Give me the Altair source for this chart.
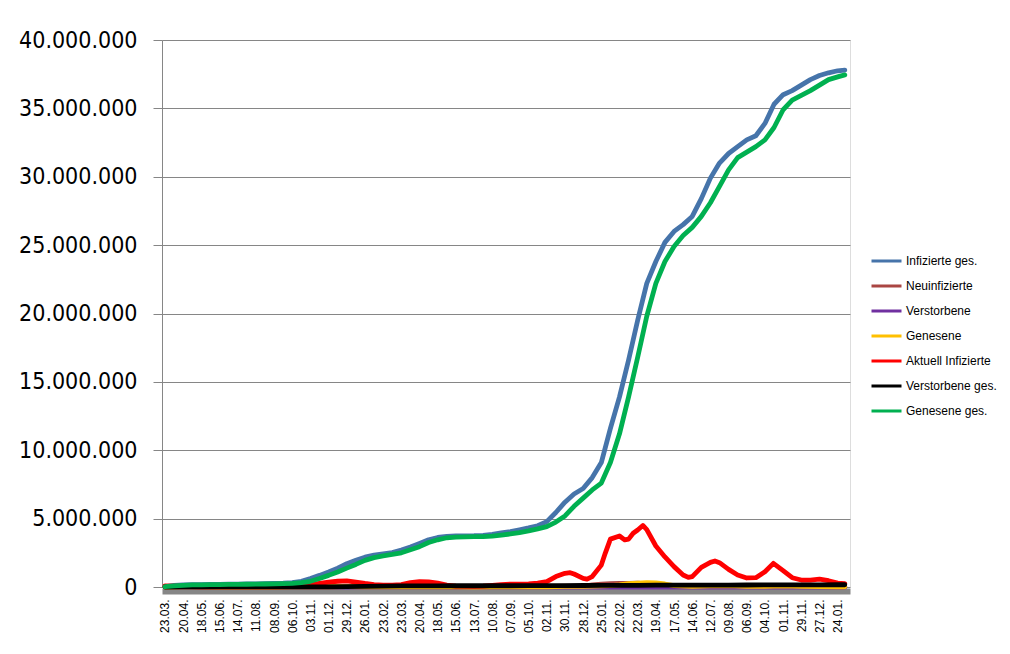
import altair as alt
import pandas as pd

# ---- data (values in millions) -------------------------------------------
x_labels = ["23.03.", "20.04.", "18.05.", "15.06.", "14.07.", "11.08.", "08.09.", "06.10.",
            "03.11.", "01.12.", "29.12.", "26.01.", "23.02.", "23.03.", "20.04.", "18.05.",
            "15.06.", "13.07.", "10.08.", "07.09.", "05.10.", "02.11.", "30.11.", "28.12.",
            "25.01.", "22.02.", "22.03.", "19.04.", "17.05.", "14.06.", "12.07.", "09.08.",
            "06.09.", "04.10.", "01.11.", "29.11.", "27.12.", "24.01."]

series_names = ["Infizierte ges.", "Neuinfizierte", "Verstorbene", "Genesene",
                "Aktuell Infizierte", "Verstorbene ges.", "Genesene ges."]
series_colors = ["#4674AA", "#AA4643", "#7030A0", "#FFC000", "#FF0000", "#000000", "#00B050"]

grid_days = list(range(0, 1037, 14)) + [1047]
coarse_days = list(range(0, 1037, 28)) + [1047]

infizierte_ges = [
    0.03, 0.12, 0.15, 0.17, 0.18, 0.19, 0.19, 0.20, 0.21, 0.22,
    0.23, 0.24, 0.26, 0.28, 0.32, 0.42, 0.62, 0.85, 1.10, 1.38,
    1.70, 1.95, 2.18, 2.33, 2.42, 2.52, 2.70, 2.92, 3.18, 3.45,
    3.62, 3.70, 3.73, 3.74, 3.75, 3.78, 3.85, 3.95, 4.05, 4.18,
    4.32, 4.48, 4.78, 5.45, 6.20, 6.80, 7.20, 8.00, 9.10, 11.6,
    13.9, 16.6, 19.5, 22.2, 23.8, 25.2, 26.0, 26.5, 27.1, 28.4,
    29.9, 31.0, 31.7, 32.2, 32.7, 33.0, 33.9, 35.3, 36.0, 36.3,
    36.7, 37.1, 37.4, 37.6, 37.75, 37.8]

genesene_ges = [
    0.02, 0.08, 0.12, 0.15, 0.16, 0.17, 0.18, 0.185, 0.19, 0.20,
    0.21, 0.22, 0.23, 0.25, 0.27, 0.32, 0.42, 0.62, 0.85, 1.10,
    1.38, 1.65, 1.95, 2.15, 2.28, 2.38, 2.50, 2.72, 2.95, 3.25,
    3.45, 3.60, 3.65, 3.67, 3.68, 3.69, 3.72, 3.80, 3.88, 3.98,
    4.10, 4.25, 4.42, 4.75, 5.20, 5.90, 6.50, 7.10, 7.60, 9.10,
    11.2, 13.9, 16.8, 19.8, 22.2, 23.8, 24.9, 25.7, 26.3, 27.1,
    28.1, 29.3, 30.5, 31.4, 31.8, 32.2, 32.7, 33.6, 34.9, 35.6,
    35.95, 36.3, 36.7, 37.1, 37.3, 37.45]

aktuell_days = [0, 14, 28, 56, 168, 196, 210, 224, 238, 252, 266, 280, 294, 308, 322, 336,
                350, 364, 378, 392, 406, 420, 434, 448, 476, 490, 504, 518, 532, 560, 574,
                588, 602, 616, 624, 630, 644, 650, 658, 672, 678, 686, 700, 708, 714, 721,
                728, 736, 742, 756, 770, 784, 798, 806, 812, 826, 840, 847, 854, 868, 882,
                896, 910, 924, 937, 952, 966, 980, 994, 1008, 1022, 1036, 1047]
aktuell_infizierte = [0.08, 0.07, 0.04, 0.01, 0.02, 0.03, 0.08, 0.17, 0.27, 0.35, 0.42, 0.45,
                      0.36, 0.26, 0.18, 0.14, 0.14, 0.18, 0.32, 0.40, 0.38, 0.28, 0.14, 0.07,
                      0.05, 0.07, 0.12, 0.18, 0.21, 0.23, 0.28, 0.39, 0.76, 1.00, 1.05, 0.95,
                      0.63, 0.58, 0.76, 1.60, 2.46, 3.50, 3.73, 3.44, 3.50, 3.93, 4.17, 4.50,
                      4.20, 3.00, 2.20, 1.49, 0.88, 0.70, 0.76, 1.44, 1.80, 1.90, 1.78, 1.29,
                      0.88, 0.66, 0.68, 1.12, 1.73, 1.20, 0.68, 0.51, 0.51, 0.58, 0.46, 0.29,
                      0.24]

verstorbene_ges = [0.0003, 0.006, 0.008, 0.0087, 0.009, 0.0092, 0.0094, 0.0096, 0.011, 0.016,
                   0.03, 0.05, 0.068, 0.075, 0.081, 0.087, 0.090, 0.091, 0.092, 0.093,
                   0.094, 0.096, 0.10, 0.11, 0.117, 0.12, 0.126, 0.133, 0.138, 0.14,
                   0.142, 0.144, 0.147, 0.149, 0.152, 0.156, 0.16, 0.164, 0.165]

verstorbene = [0.0001, 0.0002, 0.0001, 0.0, 0.0, 0.0, 0.0, 0.0001, 0.0002, 0.0005,
               0.0008, 0.0009, 0.0004, 0.0002, 0.0003, 0.0002, 0.0001, 0.0, 0.0, 0.0001,
               0.0001, 0.0002, 0.0004, 0.0003, 0.0002, 0.0002, 0.0003, 0.0003, 0.0002, 0.0001,
               0.0001, 0.0002, 0.0001, 0.0001, 0.0002, 0.0002, 0.0002, 0.0001, 0.0001]

neu_days = [0, 28, 56, 84, 112, 140, 168, 196, 224, 252, 280, 308, 336, 364, 392, 420, 448,
            476, 504, 532, 560, 588, 616, 644, 658, 672, 686, 700, 714, 728, 742, 756, 770,
            784, 812, 840, 868, 896, 924, 952, 980, 1008, 1036, 1047]
neuinfizierte = [0.004, 0.002, 0.0005, 0.0004, 0.0005, 0.001, 0.0015, 0.003, 0.016, 0.018,
                 0.025, 0.015, 0.008, 0.012, 0.02, 0.01, 0.001, 0.0015, 0.004, 0.011,
                 0.008, 0.02, 0.06, 0.045, 0.15, 0.2, 0.25, 0.27, 0.26, 0.28,
                 0.22, 0.12, 0.09, 0.05, 0.06, 0.12, 0.08, 0.03, 0.06, 0.08,
                 0.04, 0.03, 0.015, 0.01]

gen_days = [0, 28, 56, 84, 112, 140, 168, 196, 224, 252, 280, 308, 336, 364, 392, 420, 448,
            476, 504, 532, 560, 588, 616, 644, 658, 672, 686, 700, 714, 728, 742, 756, 770,
            784, 812, 840, 868, 896, 924, 952, 980, 1008, 1036, 1047]
genesene = [0.0, 0.004, 0.002, 0.0005, 0.0004, 0.0006, 0.001, 0.002, 0.006, 0.02,
            0.022, 0.02, 0.01, 0.01, 0.018, 0.018, 0.005, 0.001, 0.002, 0.008,
            0.01, 0.013, 0.04, 0.05, 0.06, 0.08, 0.1, 0.15, 0.24, 0.29,
            0.31, 0.3, 0.22, 0.1, 0.05, 0.08, 0.11, 0.05, 0.04, 0.09,
            0.05, 0.03, 0.02, 0.012]

# ---- long table ----------------------------------------------------------
def block(name, days, vals):
    return pd.DataFrame({"day": days, "value": [v * 1e6 for v in vals], "series": name})

df = pd.concat([
    block("Infizierte ges.", grid_days, infizierte_ges),
    block("Neuinfizierte", neu_days, neuinfizierte),
    block("Verstorbene", coarse_days, verstorbene),
    block("Genesene", gen_days, genesene),
    block("Aktuell Infizierte", aktuell_days, aktuell_infizierte),
    block("Verstorbene ges.", coarse_days, verstorbene_ges),
    block("Genesene ges.", grid_days, genesene_ges),
], ignore_index=True)

label_arr = "[" + ",".join("'" + s + "'" for s in x_labels) + "]"
tick_days = list(range(0, 1037, 28))

x_enc = alt.X("day:Q",
              scale=alt.Scale(domain=[-4.6, 1055], nice=False, zero=False),
              axis=alt.Axis(values=tick_days, labelExpr=label_arr + "[round(datum.value/28)]",
                            labelAngle=270, labelAlign="right", labelBaseline="middle",
                            labelFont="Liberation Sans", labelFontSize=12, labelColor="#000000",
                            labelPadding=8, ticks=False, tickSize=0, grid=False,
                            domainColor="#868686", domainWidth=6, offset=4,
                            labelOverlap=False, title=None))
y_enc = alt.Y("value:Q",
              scale=alt.Scale(domain=[0, 40000000], nice=False),
              axis=alt.Axis(values=list(range(0, 40000001, 5000000)),
                            labelExpr="replace(replace(format(datum.value, ',d'), ',', '.'), ',', '.')",
                            labelFont="DejaVu Sans Condensed", labelFontSize=23,
                            labelColor="#000000", labelPadding=16,
                            tickSize=9, tickColor="#868686", domainColor="#868686",
                            gridColor="#868686", gridWidth=1, title=None))
color_enc = alt.Color("series:N",
                      scale=alt.Scale(domain=series_names, range=series_colors),
                      legend=alt.Legend(title=None, orient="none", legendX=708, legendY=215,
                                        symbolType="stroke", symbolSize=900,
                                        symbolStrokeWidth=3, labelFont="Liberation Sans",
                                        labelFontSize=12, labelColor="#000000",
                                        clipHeight=12, rowPadding=13, labelOffset=3,
                                        symbolOffset=0))

layers = []
for name in series_names:
    layers.append(
        alt.Chart(df).transform_filter(alt.datum.series == name)
        .mark_line(strokeWidth=4.8, strokeJoin="round", strokeCap="round")
        .encode(x=x_enc, y=y_enc, color=color_enc)
    )

chart = alt.layer(*layers).properties(
    width=688, height=547,
    autosize=alt.AutoSizeParams(type="none"),
    padding={"left": 154, "top": 32, "right": 150, "bottom": 56},
).configure_view(stroke=None).configure(background="white")

chart.save("out.html", embed_options={"renderer": "svg", "actions": False})
